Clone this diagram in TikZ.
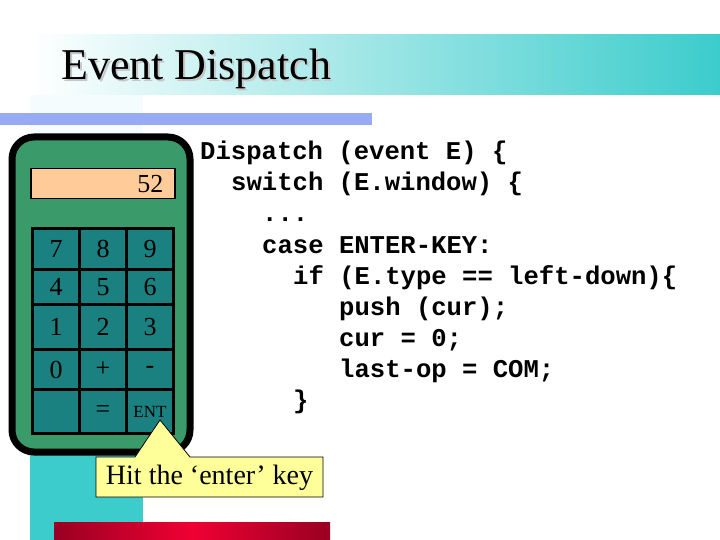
\documentclass[tikz,border=0pt]{standalone}
\usepackage{fontspec}
\setmainfont{Liberation Serif}
\setmonofont{Liberation Mono}
\begin{document}
\begin{tikzpicture}[x=1pt,y=-1pt,
 key/.style={draw=black,line width=3pt,fill=keyc,minimum width=47pt,minimum height=40pt,inner sep=0pt},
 klab/.style={font=\fontsize{26}{26}\selectfont,text=black},
 code/.style={anchor=base west,inner sep=0pt,font=\fontsize{25.6}{26}\selectfont\ttfamily\bfseries}]
\definecolor{teal1}{HTML}{3CCCCC}
\definecolor{bluebar}{HTML}{99AAF5}
\definecolor{calc}{HTML}{3A9A6A}
\definecolor{keyc}{HTML}{1A8080}
\definecolor{disp}{HTML}{FFCC99}
\definecolor{yel}{HTML}{FFFF99}
\definecolor{dred}{HTML}{990022}
\definecolor{bred}{HTML}{F00033}
\useasboundingbox (0,0) rectangle (720,540);
\fill[white] (0,0) rectangle (720,540);
\fill[left color=white,right color=teal1] (30,35) rectangle (720,95);
\fill[cyan!4] (30,95) rectangle (143,455);
\fill[bluebar] (0,113) rectangle (372,125);
\fill[teal1] (30,455) rectangle (143,540);
\fill[left color=dred,right color=bred] (54,522) rectangle (192,540);
\fill[left color=bred,right color=dred] (192,522) rectangle (330,540);
\node[anchor=base west,inner sep=0pt,text=gray!45,font=\fontsize{44}{44}\selectfont] at (63,82) {Event Dispatch};
\node[anchor=base west,inner sep=0pt,font=\fontsize{44}{44}\selectfont] (title) at (61,80) {Event Dispatch};
% calculator
\draw[line width=7pt,fill=calc,rounded corners=22pt] (12,137) rectangle (190,452);
\node[draw=black,line width=1.5pt,fill=disp,minimum width=144pt,minimum height=30pt,anchor=north west,inner sep=0pt] (disp) at (30,168) {};
\node[anchor=east,klab] at (167,184) {52};
\foreach \lab/\c/\r/\h in {7/0/227/41,8/1/227/41,9/2/227/41,4/0/268/35,5/1/268/35,6/2/268/35,
 1/0/303/45,2/1/303/45,3/2/303/45,0/0/348/40,+/1/348/40,-/2/348/40,{}/0/388/44,=/1/388/44}{
 \node[key,minimum height=\h pt,anchor=north west,klab] at (31+47*\c,\r) {\lab};}
\node[key,minimum height=44pt,anchor=north west,font=\fontsize{17}{17}\selectfont,text=black] (ent) at (125,388) {ENT};
% callout
\coordinate (tip) at (160,420);
\draw[fill=yel,line width=0.8pt] (96,457) -- (135,457) -- (tip) -- (190,457) -- (323,457) -- (323,497) -- (96,497) -- cycle;
\node[font=\fontsize{28}{28}\selectfont] (call) at (209.5,478) {Hit the ‘enter’ key};
% code
\node[code] at (200,160) {Dispatch (event E) \{};
\node[code] at (231,191) {switch (E.window) \{};
\node[code] at (262,222) {...};
\node[code] at (262,253) {case ENTER-KEY:};
\node[code] at (293,284) {if (E.type == left-down)\{};
\node[code] at (339,315) {push (cur);};
\node[code] at (339,346) {cur = 0;};
\node[code] at (339,377) {last-op = COM;};
\node[code] at (293,408) {\}};
\end{tikzpicture}
\end{document}
